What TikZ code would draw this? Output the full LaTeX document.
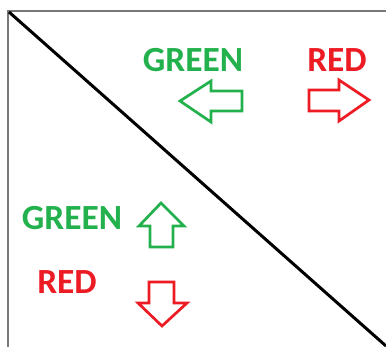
\documentclass[tikz,border=0pt]{standalone}
\usepackage{fontspec}
\setmainfont{Carlito}
\definecolor{pgreen}{RGB}{34,177,76}
\definecolor{pred}{RGB}{237,28,36}
\definecolor{framegray}{RGB}{120,120,120}
\begin{document}
\begin{tikzpicture}[x=1bp,y=-1bp,
  lbl/.style={font=\fontsize{35.5}{36}\selectfont\bfseries,inner sep=0pt,anchor=center},
  arr/.style={line width=2.7bp,line join=miter,fill=white}]
\useasboundingbox (0,0) rectangle (386,347);
% frame
\draw[framegray,line width=2bp] (8,347) -- (8,11) -- (386,11);
% diagonal
\draw[black,line width=3bp] (9,12) -- (386,346);
% labels
\node[lbl,text=pgreen] (g1) at (193,60) {GREEN};
\node[lbl,text=pred] (r1) at (337,60) {RED};
\node[lbl,text=pgreen] (g2) at (72,218) {GREEN};
\node[lbl,text=pred] (r2) at (67,282) {RED};
% left arrow (green)
\draw[arr,draw=pgreen] (180,101) -- (211,81) -- (211,91) -- (242,91) -- (242,111) -- (211,111) -- (211,122) -- cycle;
% right arrow (red)
\draw[arr,draw=pred] (369,100) -- (339,80) -- (339,90) -- (309,90) -- (309,111) -- (339,111) -- (339,121) -- cycle;
% up arrow (green)
\draw[arr,draw=pgreen] (161,203) -- (184,226) -- (173,226) -- (173,247) -- (150,247) -- (150,226) -- (139,226) -- cycle;
% down arrow (red)
\draw[arr,draw=pred] (162,326) -- (187,303) -- (174,303) -- (174,282) -- (149,282) -- (149,303) -- (138,303) -- cycle;
\end{tikzpicture}
\end{document}
